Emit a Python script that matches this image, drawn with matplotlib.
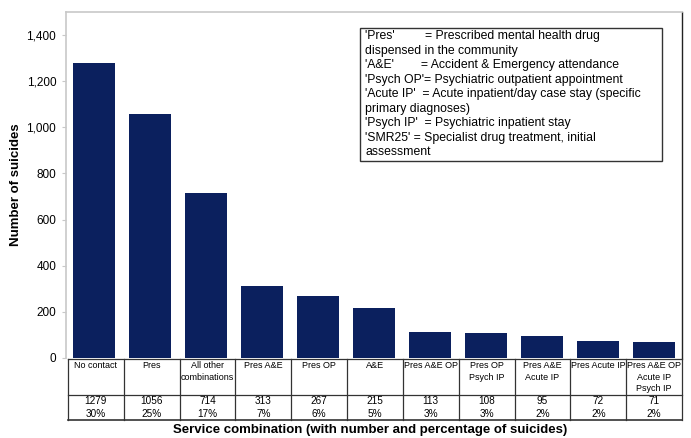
import matplotlib
matplotlib.use("Agg")
import matplotlib.pyplot as plt
from matplotlib.patches import Rectangle

plt.rcParams['font.family'] = ['Liberation Sans', 'DejaVu Sans']

categories = ["No contact", "Pres", "All other\ncombinations", "Pres A&E", "Pres OP",
              "A&E", "Pres A&E OP", "Pres OP\nPsych IP", "Pres A&E\nAcute IP",
              "Pres Acute IP", "Pres A&E OP\nAcute IP\nPsych IP"]
suicides = [1279, 1056, 714, 313, 267, 215, 113, 108, 95, 72, 71]
percentages = ["30%", "25%", "17%", "7%", "6%", "5%", "3%", "3%", "2%", "2%", "2%"]
y_ticks = [0, 200, 400, 600, 800, 1000, 1200, 1400]

key_text = ("'Pres'         = Prescribed mental health drug\n"
            "dispensed in the community\n"
            "'A&E'        = Accident & Emergency attendance\n"
            "'Psych OP'= Psychiatric outpatient appointment\n"
            "'Acute IP'  = Acute inpatient/day case stay (specific\n"
            "primary diagnoses)\n"
            "'Psych IP'  = Psychiatric inpatient stay\n"
            "'SMR25' = Specialist drug treatment, initial\n"
            "assessment")

W, H = 691, 438
fig = plt.figure(figsize=(W / 100, H / 100), dpi=100)

# main bar axes
ax = fig.add_axes([66 / W, (H - 358) / H, 616 / W, 346 / H])
x = list(range(len(categories)))
ax.bar(x, suicides, width=0.75, color="#0b205e", zorder=2)
ax.set_xlim(-0.5, len(categories) - 0.5)
ax.set_ylim(0, 1500)
ax.set_yticks(y_ticks)
ax.set_yticklabels([f"{v:,}" for v in y_ticks], fontsize=8.5)
ax.set_xticks([])
ax.tick_params(axis="y", length=3, color="#c8c8c8", pad=4)
for side in ["top", "left"]:
    ax.spines[side].set_color("#c8c8c8")
    ax.spines[side].set_linewidth(1.2)
ax.spines["right"].set_color("#222222")
ax.spines["right"].set_linewidth(1.0)
ax.spines["bottom"].set_visible(False)
ax.set_ylabel("Number of suicides", fontsize=9.5, fontweight="bold")
ax.yaxis.set_label_coords(-(66 - 22) / 616, 0.5)

# data table under the bars
tab = fig.add_axes([68 / W, (H - 420) / H, 614 / W, 61 / H])
tab.set_xlim(-0.5, len(categories) - 0.5)
tab.set_ylim(0, 61)
tab.axis("off")
lc = "#333333"
tab.plot([-0.5, len(categories) - 0.5], [61, 61], color=lc, lw=0.9, clip_on=False)
tab.plot([-0.5, len(categories) - 0.5], [25, 25], color=lc, lw=0.9, clip_on=False)
tab.plot([-0.5, len(categories) - 0.5], [0, 0], color=lc, lw=1.2, clip_on=False)
for i in range(len(categories) + 1):
    tab.plot([i - 0.5, i - 0.5], [0, 61], color=lc, lw=0.9, clip_on=False)
for i, (c, n, p) in enumerate(zip(categories, suicides, percentages)):
    tab.text(i, 58.5, c, ha="center", va="top", fontsize=6.5, linespacing=1.35)
    tab.text(i, 12.5, f"{n}\n{p}", ha="center", va="center", fontsize=7.2,
             linespacing=1.4)

fig.text(370 / W, (H - 430) / H,
         "Service combination (with number and percentage of suicides)",
         ha="center", va="center", fontsize=9.5, fontweight="bold")

# abbreviation key
fig.patches.append(Rectangle((360 / W, (H - 161) / H), 302 / W, 133 / H,
                             transform=fig.transFigure, fill=True,
                             facecolor="white", edgecolor="#333333", lw=1.0,
                             zorder=3))
fig.text(365 / W, (H - 30) / H, key_text, ha="left", va="top", fontsize=8.8,
         linespacing=1.28, zorder=4)

fig.savefig("out.png", dpi=100)
